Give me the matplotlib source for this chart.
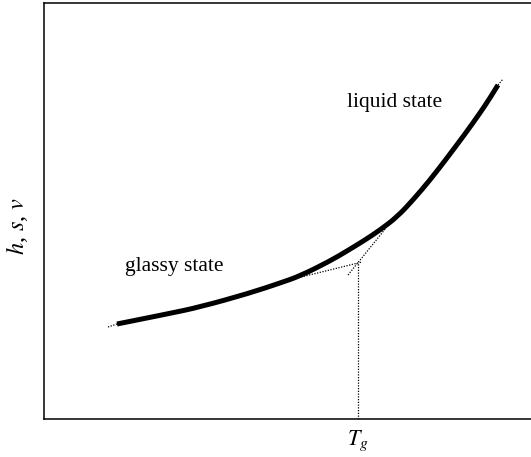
import matplotlib
matplotlib.use("Agg")
import matplotlib.pyplot as plt
from matplotlib.path import Path
from matplotlib.patches import PathPatch

plt.rcParams["font.family"] = ["Liberation Serif", "DejaVu Serif"]
plt.rcParams["mathtext.fontset"] = "stix"

# Temperature (horizontal) and h, s, v (vertical) along the cooling curve
T_curve = [73, 123, 156, 206, 236, 256, 286, 303, 321, 336, 353, 369, 386, 403, 421, 436, 446, 454]
h_curve = [95, 105, 112, 126, 136, 143, 158, 168, 179, 189, 202, 219, 239, 261, 285, 306, 321, 334]

# Extrapolated glassy and liquid lines, meeting at the glass transition
T_glass = [241, 318]
h_glass = [138, 157]
T_liquid = [304, 342]
h_liquid = [144, 191]
Tg = 314
h_Tg = 156

# Short dotted continuations at both ends of the curve
T_start = [64, 73]
h_start = [92, 95]
T_end = [454, 459]
h_end = [334, 340]

fig = plt.figure(figsize=(5.31, 4.57), dpi=100)
ax = fig.add_axes([44 / 531, 38 / 457, 487 / 531, 416 / 457])
ax.set_xlim(0, 487)
ax.set_ylim(0, 416)


def smooth_path(xs, ys):
    """Quadratic Bezier path using the points as control points."""
    pts = list(zip(xs, ys))
    verts = [pts[0]]
    codes = [Path.MOVETO]
    for i in range(1, len(pts) - 1):
        mid = ((pts[i][0] + pts[i + 1][0]) / 2, (pts[i][1] + pts[i + 1][1]) / 2)
        if i == len(pts) - 2:
            mid = pts[i + 1]
        verts += [pts[i], mid]
        codes += [Path.CURVE3, Path.CURVE3]
    return Path(verts, codes)


curve = PathPatch(smooth_path(T_curve, h_curve), facecolor="none",
                  edgecolor="black", lw=3.6, capstyle="butt",
                  joinstyle="round", zorder=3)
ax.add_patch(curve)

dots = dict(color="black", lw=0.9, ls=(0, (1, 1.2)), zorder=2)
ax.plot(T_glass, h_glass, **dots)
ax.plot(T_liquid, h_liquid, **dots)
ax.plot([Tg, Tg], [0, h_Tg], **dots)
ax.plot(T_start, h_start, **dots)
ax.plot(T_end, h_end, **dots)

ax.text(81, 153, "glassy state", fontsize=15.5, ha="left", va="center")
ax.text(303, 316, "liquid state", fontsize=15.5, ha="left", va="center")

ax.set_xticks([Tg])
ax.set_xticklabels(["$T_g$"], fontsize=16)
ax.tick_params(axis="x", length=0, pad=7)
ax.set_yticks([])
fig.text(17 / 531, 1 - 226 / 457, "$h$, $s$, $v$", fontsize=17.5,
         rotation=90, ha="center", va="center")

for side in ["left", "bottom", "top"]:
    ax.spines[side].set_linewidth(1.1)
ax.spines["right"].set_visible(False)

fig.savefig("out.png", dpi=100)
